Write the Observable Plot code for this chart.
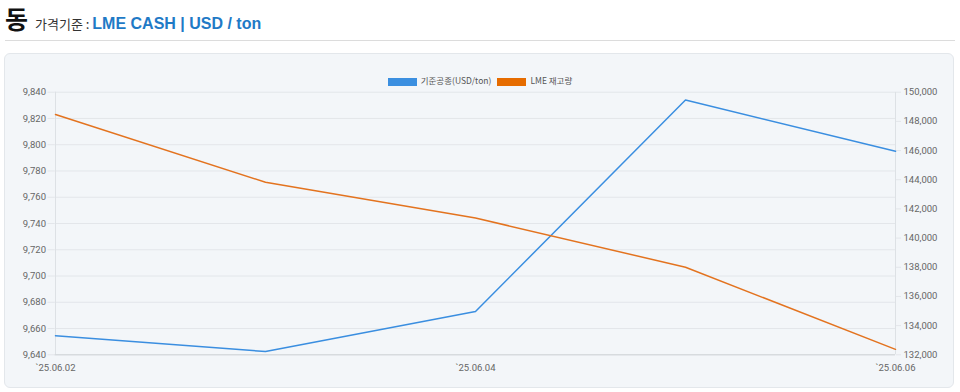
<!DOCTYPE html>
<html><head><meta charset="utf-8">
<script src="https://cdn.jsdelivr.net/npm/d3@7"></script>
<script src="https://cdn.jsdelivr.net/npm/@observablehq/plot@0.6"></script>
<style>
body{margin:0;background:#fff;font-family:"Noto Sans CJK KR","Noto Sans",sans-serif;width:960px;height:392px;overflow:hidden;position:relative}
#hdr{position:absolute;left:5px;top:0px;white-space:nowrap}
#hdr .t{font-size:25px;font-weight:700;color:#111;vertical-align:baseline;font-family:"Noto Sans CJK KR",sans-serif}
#hdr .s{font-size:13px;color:#333;margin-left:7px;font-family:"Noto Sans CJK KR",sans-serif}
#hdr .b{font-size:16px;font-weight:700;color:#1f7ac6;font-family:"Liberation Sans",Arial,sans-serif}
#rule{position:absolute;left:5px;right:5px;top:40px;height:1px;background:#dcdcdc}
#card{position:absolute;left:4px;top:53px;width:950px;height:335px;background:#f3f6f9;border:1px solid #e3e7eb;border-radius:6px;box-sizing:border-box}
#legend{position:absolute;left:0;width:960px;top:74px;text-align:center;font-size:8.5px;color:#555;font-family:"Noto Sans CJK KR",sans-serif}
#legend span.sw{display:inline-block;width:29px;height:8px;vertical-align:middle;margin-right:4px}
#legend span.it{margin:0 3px}
#chart{position:absolute;left:0;top:70px}
</style></head><body>
<div id="hdr"><span class="t">동</span><span class="s">가격기준 : </span><span class="b">LME CASH | USD / ton</span></div>
<div id="rule"></div>
<div id="card"></div>
<div id="legend"></div>
<div id="chart"></div>
<script>
const dates = ["`25.06.02","`25.06.03","`25.06.04","`25.06.05","`25.06.06"];
const priceLabel = "기준공종(USD/ton)";
const stockLabel = "LME 재고량";
const price = [9654.5, 9642.5, 9673, 9834, 9795];
const stock = [148475, 143825, 141375, 138000, 132375];
const shownTicks = ["`25.06.02","`25.06.04","`25.06.06"];
const colors = {price:"#3a8ee0", stock:"#e3731f"};
const swatch = {price:"#3b8fe0", stock:"#e66c00"};

const yMin = 9640, yMax = 9840, sMin = 132000, sMax = 150000;
const toLeft = v => yMin + (v - sMin) / (sMax - sMin) * (yMax - yMin);

const priceData = dates.map((d,i)=>({d, v:price[i]}));
const stockData = dates.map((d,i)=>({d, v:toLeft(stock[i])}));
const leftTicks = d3.range(yMin, yMax + 1, 20);
const rightTicks = d3.range(sMin, sMax + 1, 2000);
const fmt = d3.format(",");

document.getElementById("legend").innerHTML =
  `<span class="it"><span class="sw" style="background:${swatch.price}"></span>${priceLabel}</span>` +
  `<span class="it"><span class="sw" style="background:${swatch.stock}"></span>${stockLabel}</span>`;

const plot = Plot.plot({
  width: 960, height: 320,
  marginLeft: 54.5, marginRight: 65, marginTop: 21.7, marginBottom: 35.7,
  style: {background: "transparent", fontFamily: "Roboto, 'Noto Sans', sans-serif", fontSize: "9.5px", color: "#666"},
  x: {type: "point", domain: dates, padding: 0},
  y: {domain: [yMin, yMax]},
  marks: [
    Plot.ruleY(leftTicks, {stroke: "#e3e6ea", strokeWidth: 1}),
    Plot.ruleX([dates[0], dates[dates.length-1]], {stroke: "#dde1e5"}),
    Plot.ruleY([yMin], {stroke: "#d0d4d8"}),
    Plot.axisY({ticks: leftTicks, tickFormat: fmt, anchor: "left", label: null, tickSize: 7, tickPadding: 2, stroke: "#e3e6ea", fill: "#666"}),
    Plot.axisY(rightTicks.map(toLeft), {tickFormat: (v, i) => fmt(rightTicks[i]), anchor: "right", label: null, tickSize: 5, tickPadding: 3, stroke: "#e3e6ea", fill: "#666"}),
    Plot.axisX({ticks: shownTicks, label: null, tickSize: 0, tickPadding: 9, fill: "#666"}),
    Plot.line(priceData, {x: "d", y: "v", stroke: colors.price, strokeWidth: 1.5}),
    Plot.line(stockData, {x: "d", y: "v", stroke: colors.stock, strokeWidth: 1.5})
  ]
});
document.getElementById("chart").appendChild(plot);
</script>
</body></html>
